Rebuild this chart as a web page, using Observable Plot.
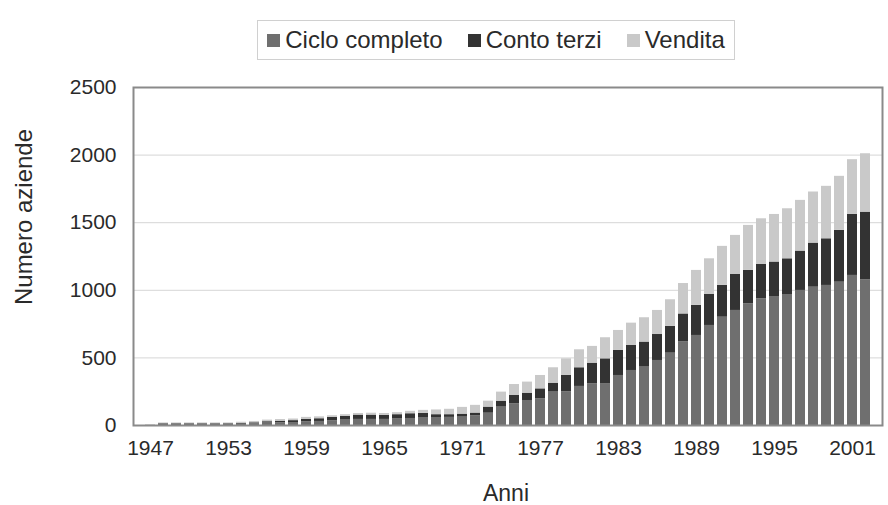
<!DOCTYPE html>
<html>
<head>
<meta charset="utf-8">
<script src="https://cdn.jsdelivr.net/npm/d3@7"></script>
<script src="https://cdn.jsdelivr.net/npm/@observablehq/plot@0.6"></script>
<style>
  html, body { margin: 0; padding: 0; background: #fff; }
  body { width: 888px; height: 505px; overflow: hidden; font-family: "Liberation Sans", Arial, sans-serif; }
  #legend { position: relative; height: 75px; width: 888px; }
  #legend .box { position: absolute; left: 257px; top: 20px; width: 478px; height: 40px; border: 1px solid #d0d0d0; box-sizing: border-box; display: flex; align-items: center; justify-content: center; gap: 25px; font-size: 24px; color: #2a2a2a; }
  #legend .item { display: flex; align-items: center; gap: 5px; }
  #legend .sw { width: 13px; height: 13px; display: inline-block; }
</style>
</head>
<body>
<div id="legend"><div class="box"></div></div>
<div id="chart"></div>
<script>
const years = [1947,1948,1949,1950,1951,1952,1953,1954,1955,1956,1957,1958,1959,1960,1961,1962,1963,1964,1965,1966,1967,1968,1969,1970,1971,1972,1973,1974,1975,1976,1977,1978,1979,1980,1981,1982,1983,1984,1985,1986,1987,1988,1989,1990,1991,1992,1993,1994,1995,1996,1997,1998,1999,2000,2001,2002];

const cicloCompleto = [2,8,8,8,8,8,8,10,12,18,20,22,28,30,35,40,45,45,45,48,52,55,55,60,62,72,91,136,160,185,197,247,250,289,308,310,370,407,432,481,535,620,666,740,801,851,900,937,950,969,999,1023,1036,1060,1110,1078];

const contoTerzi = [0,5,5,5,5,5,5,6,8,10,12,14,18,20,25,28,32,32,30,32,35,35,25,20,22,20,45,44,62,54,74,66,120,138,153,183,185,185,185,192,198,205,222,229,235,266,247,254,259,264,291,326,345,383,451,500];

const vendita = [0,6,6,6,6,6,6,8,10,12,12,12,14,14,12,12,12,14,14,15,18,22,35,40,50,57,44,67,81,82,99,114,123,133,124,156,148,165,180,178,197,225,259,264,289,289,333,338,352,370,375,378,388,400,405,432];

const seriesNames = ["Ciclo completo", "Conto terzi", "Vendita"];
const seriesColors = ["#6f6f6f", "#333333", "#c9c9c9"];
const xTickYears = [1947,1953,1959,1965,1971,1977,1983,1989,1995,2001];
const yTicks = [0,500,1000,1500,2000,2500];

const seriesValues = [cicloCompleto, contoTerzi, vendita];
const data = [];
years.forEach((yr, i) => {
  seriesNames.forEach((s, j) => data.push({year: yr, series: s, value: seriesValues[j][i]}));
});

// legend
const box = document.querySelector("#legend .box");
seriesNames.forEach((s, j) => {
  const it = document.createElement("span");
  it.className = "item";
  const sw = document.createElement("span");
  sw.className = "sw";
  sw.style.background = seriesColors[j];
  const t = document.createElement("span");
  t.textContent = s;
  it.appendChild(sw); it.appendChild(t);
  box.appendChild(it);
});

const chart = Plot.plot({
  width: 888,
  height: 430,
  marginLeft: 133,
  marginRight: 6,
  marginTop: 12,
  marginBottom: 80,
  style: {fontFamily: "Liberation Sans, Arial, sans-serif", fontSize: "21px", color: "#2a2a2a", background: "#fff"},
  x: {type: "band", domain: years, paddingInner: 0.22, paddingOuter: 0.11, label: null},
  y: {domain: [0, 2500], label: null},
  color: {domain: seriesNames, range: seriesColors},
  marks: [
    Plot.gridY(yTicks, {stroke: "#d6d6d6", strokeOpacity: 1}),
    Plot.barY(data, {x: "year", y: "value", fill: "series", order: seriesNames}),
    Plot.frame({stroke: "#8a8a8a", strokeWidth: 2}),
    Plot.axisY(yTicks, {tickSize: 0, tickPadding: 17, label: null, fontSize: 21, tickFormat: d => String(d)}),
    Plot.axisX(xTickYears, {tickSize: 0, tickPadding: 15, label: null, fontSize: 21, tickFormat: d => String(d)})
  ]
});
document.getElementById("chart").appendChild(chart);

const svg = d3.select(chart);
svg.append("text")
  .attr("transform", "translate(23,142) rotate(-90)")
  .attr("text-anchor", "middle")
  .attr("dominant-baseline", "central")
  .attr("font-size", 24)
  .attr("fill", "#2a2a2a")
  .text("Numero aziende");
svg.append("text")
  .attr("x", 506)
  .attr("y", 418)
  .attr("text-anchor", "middle")
  .attr("dominant-baseline", "central")
  .attr("font-size", 23)
  .attr("fill", "#2a2a2a")
  .text("Anni");
</script>
</body>
</html>
